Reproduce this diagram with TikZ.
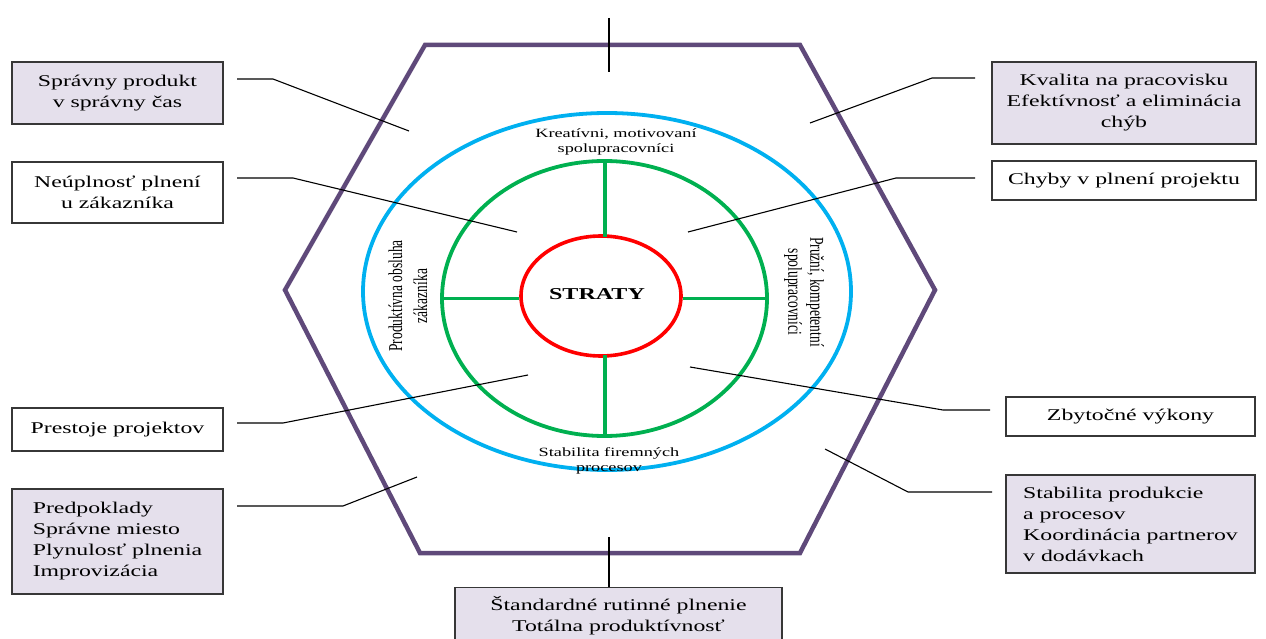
\documentclass[tikz,border=0pt]{standalone}
\usepackage{fontspec}
\setmainfont{Liberation Serif}
% widened serif for horizontal labels, narrowed one for the turned labels
\newfontfamily\wideserif[FakeStretch=1.45]{Liberation Serif}
\newfontfamily\narrowserif[FakeStretch=0.69]{Liberation Serif}
\usetikzlibrary{shapes.geometric}
\definecolor{hexpurple}{RGB}{95,73,122}
\definecolor{ringblue}{RGB}{0,176,240}
\definecolor{ringgreen}{RGB}{0,176,80}
\definecolor{ringred}{RGB}{255,0,0}
\definecolor{boxfill}{RGB}{229,224,236}
\definecolor{boxline}{RGB}{55,55,55}

\begin{document}
\begin{tikzpicture}[x=1pt,y=-1pt,
  box/.style={draw=boxline, line width=1.3pt, inner sep=0pt, align=center,
    font={\wideserif\fontsize{16.4}{21}\selectfont}},
  shaded/.style={box, fill=boxfill},
  leftbox/.style={shaded, align=left},
  ring/.style={ellipse, draw, inner sep=0pt},
  ringlabel/.style={inner sep=0pt, align=center,
    font={\wideserif\fontsize{12.6}{15.5}\selectfont}},
  turnedlabel/.style={inner sep=0pt, align=center,
    font={\narrowserif\fontsize{19.6}{25}\selectfont}},
  leader/.style={draw=black, line width=1.1pt},
  spoke/.style={draw=ringgreen, line width=3.6pt}]

\useasboundingbox (0,0) rectangle (1266,639);
\clip (0,0) rectangle (1266,639);

% outer hexagon
\draw[hexpurple, line width=4.5pt]
  (425,45) -- (800,45) -- (935,290) -- (800,553) -- (420,553) -- (285,290) -- cycle;

% rings
\node[ring, draw=ringblue, line width=3.8pt, minimum width=488, minimum height=357] (blue) at (607,291.5) {};
\node[ring, draw=ringgreen, line width=3.8pt, minimum width=325, minimum height=275] (green) at (604.5,298.5) {};
\node[ring, draw=ringred, line width=3.6pt, minimum width=160, minimum height=120] (red) at (601,296) {};
\node[inner sep=0pt, font={\wideserif\bfseries\fontsize{16.6}{20}\selectfont}] (straty) at (597,294) {STRATY};

% spokes between green and red rings
\draw[spoke] (605,161) -- (605,237);
\draw[spoke] (605,355) -- (605,436);
\draw[spoke] (green.west) -- (red.west |- green.west);
\draw[spoke] (green.east) -- (red.east |- green.east);

% labels inside the blue ring
\node[ringlabel] (top) at (616,142) {Kreatívni, motivovaní\\spolupracovníci};
\node[ringlabel] (bottom) at (609,461) {Stabilita firemných\\procesov};
\node[turnedlabel, rotate=90] (left) at (408,296) {Produktívna obsluha\\zákazníka};
\node[turnedlabel, rotate=-90, font={\narrowserif\fontsize{19.6}{22}\selectfont}] (right) at (804,292) {Pružní, kompetentní\\spolupracovníci};

% boxes on the left
\node[shaded, minimum width=211, minimum height=62] (b1) at (117.5,93) {Správny produkt\\v správny čas};
\node[box, minimum width=211, minimum height=61] (b2) at (117.5,192.5) {Neúplnosť plnení\\u zákazníka};
\node[box, minimum width=211, minimum height=43] (b3) at (117.5,429.5) {Prestoje projektov};
\node[leftbox, minimum width=211, minimum height=105] (b4) at (117.5,541.5) {Predpoklady\\Správne miesto\\Plynulosť plnenia\\Improvizácia};

% boxes on the right
\node[shaded, minimum width=264, minimum height=82] (b5) at (1124,103) {Kvalita na pracovisku\\Efektívnosť a eliminácia\\chýb};
\node[box, minimum width=264, minimum height=39] (b6) at (1124,180.5) {Chyby v plnení projektu};
\node[box, minimum width=249, minimum height=39] (b7) at (1130.5,416.5) {Zbytočné výkony};
\node[leftbox, minimum width=249, minimum height=98] (b8) at (1130.5,524) {Stabilita produkcie\\a procesov\\Koordinácia partnerov\\v dodávkach};

% box at the bottom
\node[shaded, anchor=north, minimum width=327, inner ysep=9pt] (b9) at (618.5,587) {Štandardné rutinné plnenie\\Totálna produktívnosť};

% leader lines
\coordinate (l1a) at (237,79);  \coordinate (l1b) at (273,79);  \coordinate (l1c) at (409,131);
\coordinate (l2a) at (237,178); \coordinate (l2b) at (293,178); \coordinate (l2c) at (517,232);
\coordinate (l3a) at (237,423); \coordinate (l3b) at (283,423); \coordinate (l3c) at (528,375);
\coordinate (l4a) at (237,506); \coordinate (l4b) at (343,506); \coordinate (l4c) at (417,477);
\coordinate (l5a) at (975,78);  \coordinate (l5b) at (932,78);  \coordinate (l5c) at (810,123);
\coordinate (l6a) at (975,178); \coordinate (l6b) at (896,178); \coordinate (l6c) at (688,232);
\coordinate (l7a) at (990,410); \coordinate (l7b) at (943,410); \coordinate (l7c) at (690,367);
\coordinate (l8a) at (992,492); \coordinate (l8b) at (908,492); \coordinate (l8c) at (825,449);
\coordinate (topa) at (609,18); \coordinate (topb) at (609,72);
\coordinate (bota) at (609,537);

\draw[leader] (l1a) -- (l1b) -- (l1c);
\draw[leader] (l2a) -- (l2b) -- (l2c);
\draw[leader] (l3a) -- (l3b) -- (l3c);
\draw[leader] (l4a) -- (l4b) -- (l4c);
\draw[leader] (l5a) -- (l5b) -- (l5c);
\draw[leader] (l6a) -- (l6b) -- (l6c);
\draw[leader] (l7a) -- (l7b) -- (l7c);
\draw[leader] (l8a) -- (l8b) -- (l8c);
\draw[leader] (topa) -- (topb);
\draw[leader] (bota) -- (bota |- b9.north);
\end{tikzpicture}
\end{document}
